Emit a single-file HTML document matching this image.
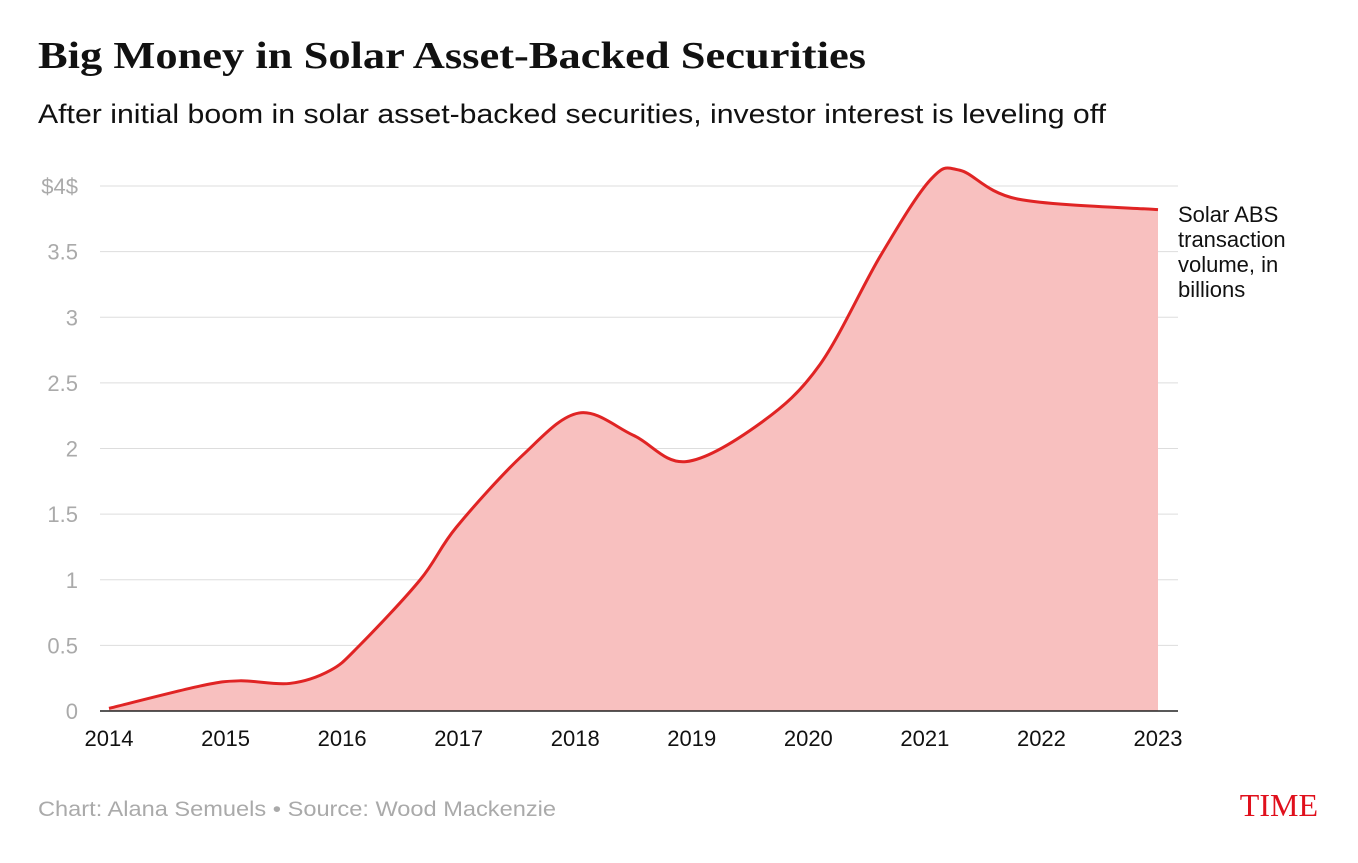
<!DOCTYPE html>
<html><head><meta charset="utf-8"><style>
body{margin:0;background:#fff;width:1358px;height:858px;overflow:hidden;font-family:"Liberation Sans",sans-serif}
</style></head><body>
<svg width="1358" height="858">
<text x="38" y="68" font-family="Liberation Serif,serif" font-weight="bold" font-size="38" fill="#111" textLength="828" lengthAdjust="spacingAndGlyphs">Big Money in Solar Asset-Backed Securities</text>
<text x="38" y="123" font-size="27" fill="#111" textLength="1068" lengthAdjust="spacingAndGlyphs">After initial boom in solar asset-backed securities, investor interest is leveling off</text>
<g id="grid"></g>
<g id="ylab"></g>
<g id="xlab"></g>
<path id="area" fill="#f8c0bf"/>
<line id="base" stroke="#222" stroke-width="1.5"/>
<path id="line" fill="none" stroke="#e02424" stroke-width="3"/>
<text x="1178" y="222" font-size="22" fill="#111"><tspan x="1178">Solar ABS</tspan><tspan x="1178" dy="25">transaction</tspan><tspan x="1178" dy="25">volume, in</tspan><tspan x="1178" dy="25">billions</tspan></text>
<text x="38" y="816" font-size="21" fill="#aaa" textLength="518" lengthAdjust="spacingAndGlyphs">Chart: Alana Semuels • Source: Wood Mackenzie</text>
<text x="1318" y="816" text-anchor="end" font-family="Liberation Serif,serif" font-size="32" fill="#e0101c">TIME</text>
</svg>
<script>
const years=[2014,2015,2016,2017,2018,2019,2020,2021,2022,2023];
const yTicks=[0,0.5,1,1.5,2,2.5,3,3.5,4];
const yTickLabels=["0","0.5","1","1.5","2","2.5","3","3.5","$4$"];
const pointX=[2014,2014.78,2015.12,2015.55,2015.9,2016.15,2016.67,2016.98,2017.55,2018.03,2018.5,2018.95,2019.6,2020.1,2020.62,2021.05,2021.3,2021.8,2023];
const pointY=[0.02,0.19,0.23,0.21,0.31,0.5,1.0,1.4,1.95,2.27,2.1,1.9,2.2,2.64,3.47,4.05,4.12,3.9,3.82];
const NS="http://www.w3.org/2000/svg";
const X=v=>109+(v-2014)*(1158-109)/9;
const Y=v=>711-v*131.25;
const grid=document.getElementById('grid'),yl=document.getElementById('ylab'),xl=document.getElementById('xlab');
yTicks.forEach((t,i)=>{
 if(t>0){const l=document.createElementNS(NS,'line');
 
 
 l.setAttribute('x1',100);l.setAttribute('x2',1178);l.setAttribute('y1',Y(t));l.setAttribute('y2',Y(t));l.setAttribute('stroke','#ddd');grid.appendChild(l);}
 const tx=document.createElementNS(NS,'text');
 
 
 tx.setAttribute('x',78);tx.setAttribute('y',Y(t)+8);tx.setAttribute('text-anchor','end');tx.setAttribute('font-size','22');tx.setAttribute('fill','#aaa');tx.textContent=yTickLabels[i];yl.appendChild(tx);
});
years.forEach(y=>{
 const tx=document.createElementNS(NS,'text');
 
 
 tx.setAttribute('x',X(y));tx.setAttribute('y',746);tx.setAttribute('text-anchor','middle');tx.setAttribute('font-size','22');tx.setAttribute('fill','#111');tx.textContent=y;xl.appendChild(tx);
});
const b=document.getElementById('base');b.setAttribute('x1',100);b.setAttribute('x2',1178);b.setAttribute('y1',711);b.setAttribute('y2',711);
const P=pointX.map((x,i)=>[X(x),Y(pointY[i])]);
let d=`M${P[0][0]},${P[0][1]}`;
for(let i=0;i<P.length-1;i++){
 const p0=P[i-1]||P[i],p1=P[i],p2=P[i+1],p3=P[i+2]||P[i+1];
 const c1=[p1[0]+(p2[0]-p0[0])/6,p1[1]+(p2[1]-p0[1])/6];
 const c2=[p2[0]-(p3[0]-p1[0])/6,p2[1]-(p3[1]-p1[1])/6];
 d+=` C${c1[0]},${c1[1]} ${c2[0]},${c2[1]} ${p2[0]},${p2[1]}`;
}
document.getElementById('line').setAttribute('d',d);
document.getElementById('area').setAttribute('d',d+` L${P[P.length-1][0]},711 L${P[0][0]},711 Z`);
</script>
</body></html>
